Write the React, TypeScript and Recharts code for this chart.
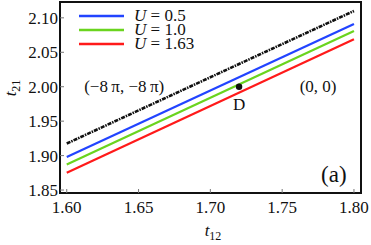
import React from "react";
import {
  ComposedChart,
  Line,
  Scatter,
  XAxis,
  YAxis,
  ReferenceArea,
  ReferenceDot,
  Legend,
} from "recharts";

// t12 end points of each line
const t12Values = [1.6, 1.8];
const boundaryValues = [1.9175, 2.11];
const u05Values = [1.898, 2.091];
const u10Values = [1.887, 2.081];
const u163Values = [1.875, 2.069];

const xTicks = [1.6, 1.65, 1.7, 1.75, 1.8];
const yTicks = [1.85, 1.9, 1.95, 2.0, 2.05, 2.1];

const pointD = [{ x: 1.72, y: 2.0 }];

const xDomain: [number, number] = [1.5953, 1.8049];
const yDomain: [number, number] = [1.8457, 2.123];

const FONT = "'Liberation Serif', 'Times New Roman', serif";

const toPoints = (vals: number[]) => t12Values.map((x, i) => ({ x, y: vals[i] }));

const series = [
  { name: "0.5", color: "#2244ff", data: toPoints(u05Values) },
  { name: "1.0", color: "#6ad41e", data: toPoints(u10Values) },
  { name: "1.63", color: "#ff1a1a", data: toPoints(u163Values) },
];
const legendNames = series.map((s) => s.name);

function XTick({ x, y, payload }: any) {
  return (
    <g>
      <line x1={x} x2={x} y1={y} y2={y - 4} stroke="#777" strokeWidth={1} />
      <text x={x} y={y + 20} textAnchor="middle" fontFamily={FONT} fontSize={17} fill="#111">
        {payload.value.toFixed(2)}
      </text>
    </g>
  );
}

function YTick({ x, y, payload }: any) {
  return (
    <g>
      <line x1={x} x2={x + 4} y1={y} y2={y} stroke="#777" strokeWidth={1} />
      <text x={x - 2} y={y + 6} textAnchor="end" fontFamily={FONT} fontSize={17} fill="#111">
        {payload.value.toFixed(2)}
      </text>
    </g>
  );
}

function LegendBox({ payload }: any) {
  const items = (payload || []).filter((p: any) => legendNames.includes(p.value));
  return (
    <div style={{ fontFamily: FONT, fontSize: 17, lineHeight: "14px", color: "#111" }}>
      {items.map((p: any) => (
        <div key={p.value} style={{ display: "flex", alignItems: "center", height: 14 }}>
          <svg width={55} height={14}>
            <line x1={0} x2={45} y1={7} y2={7} stroke={p.color} strokeWidth={2.5} />
          </svg>
          <span style={{ lineHeight: "14px" }}>
            <i>U</i> = {p.value}
          </span>
        </div>
      ))}
    </div>
  );
}

const textLabel = (txt: string, size: number) => (props: any) => {
  const { viewBox } = props;
  return (
    <text
      x={viewBox.x + viewBox.width / 2}
      y={viewBox.y + viewBox.height / 2 + size * 0.33}
      textAnchor="middle"
      fontFamily={FONT}
      fontSize={size}
      fill="#111"
    >
      {txt}
    </text>
  );
};

const DotShape = (props: any) => <circle cx={props.cx} cy={props.cy} r={3.2} fill="#111" />;

export default function App() {
  return (
    <div style={{ position: "absolute", left: 0, top: 0 }}>
      <ComposedChart width={371} height={245} margin={{ top: 2, right: 10, left: 0, bottom: 0 }}>
        <XAxis
          dataKey="x"
          type="number"
          domain={xDomain}
          ticks={xTicks}
          allowDataOverflow
          height={52}
          tickSize={0}
          tickMargin={0}
          tickLine={false}
          axisLine={false}
          tick={<XTick />}
          label={{
            content: () => (
              <text x={213} y={236} textAnchor="middle" fontFamily={FONT} fontSize={17} fill="#111">
                <tspan fontStyle="italic">t</tspan>
                <tspan fontSize={12} dy={4}>12</tspan>
              </text>
            ),
          }}
        />
        <YAxis
          type="number"
          domain={yDomain}
          ticks={yTicks}
          allowDataOverflow
          width={60}
          tickSize={0}
          tickMargin={0}
          tickLine={false}
          axisLine={false}
          tick={<YTick />}
          label={{
            content: () => (
              <text
                x={0}
                y={0}
                transform="translate(16 88) rotate(-90)"
                textAnchor="middle"
                fontFamily={FONT}
                fontSize={17}
                fill="#111"
              >
                <tspan fontStyle="italic">t</tspan>
                <tspan fontSize={12} dy={4}>21</tspan>
              </text>
            ),
          }}
        />
        <Legend
          layout="vertical"
          align="center"
          verticalAlign="middle"
          content={<LegendBox />}
          wrapperStyle={{ left: 79, top: 9, width: 160, height: 45 }}
        />
        <Line
          data={toPoints(boundaryValues)}
          dataKey="y"
          name="boundary"
          stroke="#111"
          strokeWidth={2.6}
          strokeDasharray="4 1 1.5 1"
          dot={false}
          legendType="none"
          isAnimationActive={false}
        />
        {series.map((s) => (
          <Line
            key={s.name}
            data={s.data}
            dataKey="y"
            name={s.name}
            stroke={s.color}
            strokeWidth={2.2}
            dot={false}
            isAnimationActive={false}
          />
        ))}
        <Scatter data={pointD} dataKey="y" name="D" fill="#111" legendType="none" shape={<DotShape />} isAnimationActive={false} />
        <ReferenceDot x={1.64} y={2.0} r={0} label={textLabel("(−8\u2009π, −8\u2009π)", 17)} />
        <ReferenceDot x={1.775} y={2.0} r={0} label={textLabel("(0, 0)", 17)} />
        <ReferenceDot x={1.72} y={1.975} r={0} label={textLabel("D", 17)} />
        <ReferenceDot x={1.786} y={1.872} r={0} label={textLabel("(a)", 23)} />
        <ReferenceArea
          x1={xDomain[0]}
          x2={xDomain[1]}
          y1={yDomain[0]}
          y2={yDomain[1]}
          fill="none"
          stroke="#111"
          strokeWidth={2}
          strokeOpacity={1}
          ifOverflow="visible"
        />
      </ComposedChart>
    </div>
  );
}
